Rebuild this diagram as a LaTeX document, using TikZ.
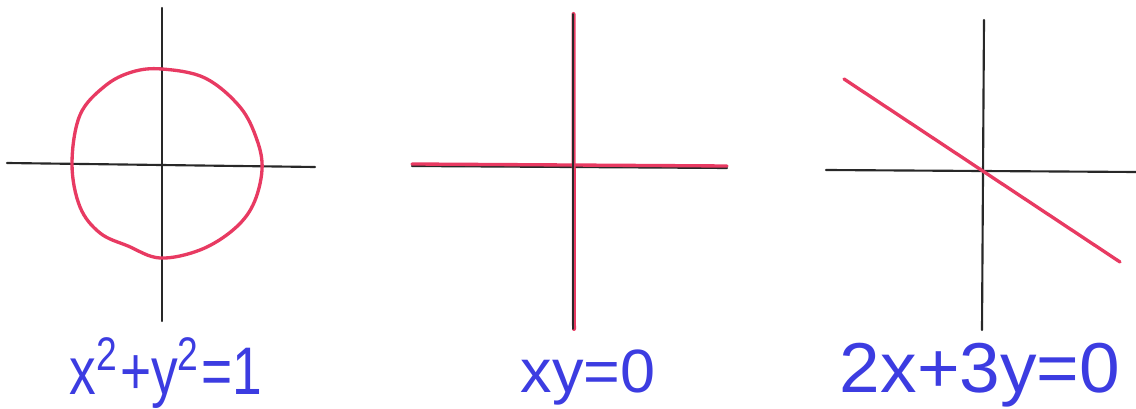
\documentclass[tikz,border=0pt]{standalone}
\usepackage{graphicx}
\usepackage{fontspec}
\setmainfont{Liberation Sans}
\definecolor{penred}{RGB}{232,58,98}
\definecolor{penblue}{RGB}{60,60,225}
\definecolor{penblack}{RGB}{40,40,40}
\begin{document}
\begin{tikzpicture}[x=0.75pt,y=-0.75pt,
  axis/.style={draw=penblack,line width=1.6pt,line cap=round},
  curve/.style={draw=penred,line width=2.5pt,line cap=round,line join=round},
  eqlabel/.style={text=penblue,inner sep=0pt,anchor=base}]
\useasboundingbox (0,0) rectangle (1136,409);
% panel 1
\draw[axis] (162,8) -- (162,321);
\draw[axis] (7,163) -- (315,167);
\draw[curve] plot[smooth cycle,tension=0.6] coordinates{
 (162,69) (205,78) (240,107) (257,140) (262,170) (253,205) (233,230)
 (200,250) (160,258) (128,246) (100,233) (80,207) (72,164) (80,115)
 (105,86) (132,72)};
\node[eqlabel] (l1) at (166,395) {\resizebox{144pt}{43pt}{x\textsuperscript{2}+y\textsuperscript{2}=1}};
% panel 2
\draw[axis] (412,166) -- (727,168);
\draw[curve] (412,164) -- (727,166);
\draw[curve,line width=3pt] (573.5,14) -- (574,329);
\draw[axis,line width=1.1pt] (573,14) -- (573,329);
\node[eqlabel] (l2) at (588,393) {\resizebox{101pt}{32pt}{xy=0}};
% panel 3
\draw[axis] (984,20) -- (982,330);
\draw[axis] (826,170) -- (1136,172);
\draw[curve] (844,79) -- (1120,262);
\node[eqlabel] (l3) at (980,393) {\resizebox{210pt}{37pt}{2x+3y=0}};
\end{tikzpicture}
\end{document}
